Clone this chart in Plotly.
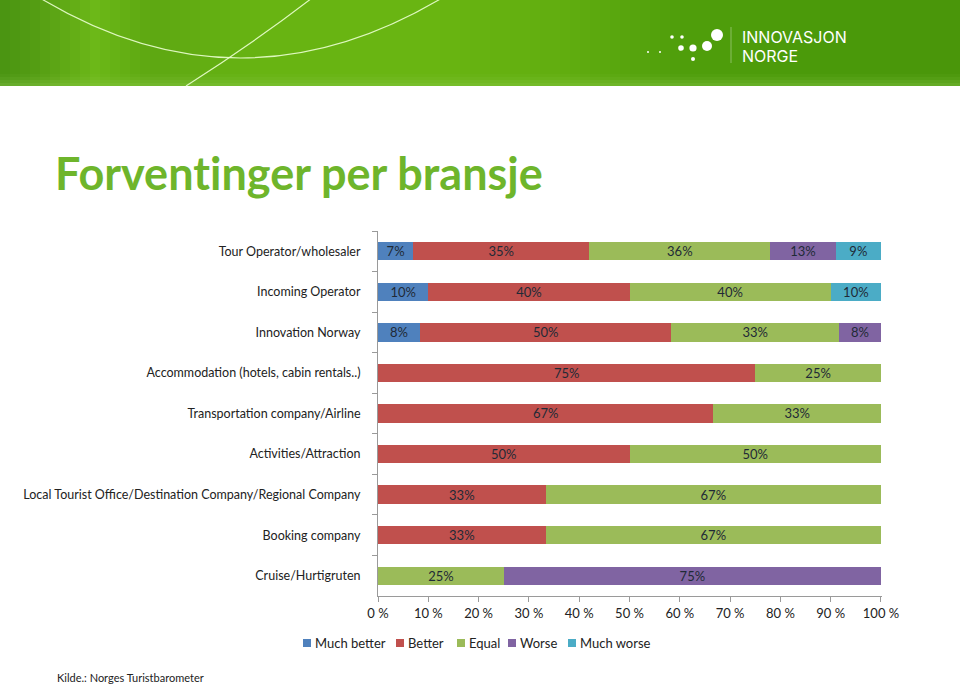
import plotly.graph_objects as go

# ---------------- data ----------------
categories = [
    "Tour Operator/wholesaler",
    "Incoming Operator",
    "Innovation Norway",
    "Accommodation (hotels, cabin rentals..)",
    "Transportation company/Airline",
    "Activities/Attraction",
    "Local Tourist Office/Destination Company/Regional Company",
    "Booking company",
    "Cruise/Hurtigruten",
]
much_better = [7, 10, 8.33, 0, 0, 0, 0, 0, 0]
better = [35, 40, 50, 75, 66.67, 50, 33.33, 33.33, 0]
equal = [36, 40, 33.33, 25, 33.33, 50, 66.67, 66.67, 25]
worse = [13, 0, 8.33, 0, 0, 0, 0, 0, 75]
much_worse = [9, 10, 0, 0, 0, 0, 0, 0, 0]

series_names = ["Much better", "Better", "Equal", "Worse", "Much worse"]
series_values = [much_better, better, equal, worse, much_worse]
series_colors = ["#4F81BD", "#C0504D", "#9BBB59", "#8064A2", "#4BACC6"]

x_tickvals = [0, 10, 20, 30, 40, 50, 60, 70, 80, 90, 100]
x_ticktext = ["0 %", "10 %", "20 %", "30 %", "40 %", "50 %", "60 %", "70 %", "80 %", "90 %", "100 %"]

W, H = 960, 684
FONT = "Lato"


def px(x):
    return x / W


def py(y):
    return 1 - y / H


fig = go.Figure()
for name, vals, col in zip(series_names, series_values, series_colors):
    fig.add_trace(go.Bar(
        name=name,
        y=categories,
        x=vals,
        orientation="h",
        marker=dict(color=col, line=dict(width=0)),
        text=[f"{v:.0f}%" if v > 0 else "" for v in vals],
        textposition="inside",
        insidetextanchor="middle",
        constraintext="none",
        textfont=dict(family=FONT, size=13, color="#1f2a36"),
        width=0.45,
        hoverinfo="skip",
        showlegend=False,
    ))

shapes = []


def hex2rgb(h):
    h = h.lstrip("#")
    return tuple(int(h[i:i + 2], 16) for i in (0, 2, 4))


# header banner: smooth horizontal gradient built from a few key colours
grad_keys = [(0, "#4a9412"), (40, "#569f14"), (95, "#6cb818"), (150, "#5ea812"),
             (260, "#68b412"), (420, "#6ab612"), (560, "#62ae10"), (680, "#509f0c"),
             (820, "#4b9a0a"), (960, "#4a960a")]
steps = 96
for i in range(steps):
    xa = i * W / steps
    xm = xa + W / steps / 2
    for (k0, c0), (k1, c1) in zip(grad_keys[:-1], grad_keys[1:]):
        if k0 <= xm <= k1:
            t = (xm - k0) / (k1 - k0)
            r0, g0, b0 = hex2rgb(c0)
            r1, g1, b1 = hex2rgb(c1)
            col = "rgb(%d,%d,%d)" % (r0 + (r1 - r0) * t, g0 + (g1 - g0) * t, b0 + (b1 - b0) * t)
            break
    shapes.append(dict(type="rect", xref="paper", yref="paper",
                       x0=px(xa), x1=px(xa + W / steps + 1), y0=py(86), y1=1,
                       fillcolor=col, line=dict(width=0), layer="below"))
for j, a in enumerate([0.10, 0.18, 0.26, 0.32]):
    shapes.append(dict(type="rect", xref="paper", yref="paper", x0=0, x1=1,
                       y0=py(86), y1=py(74 + j * 3), fillcolor="rgba(150,210,90,%.2f)" % (a / 2),
                       line=dict(width=0), layer="below"))
# arcs
shapes.append(dict(type="path", xref="paper", yref="paper",
                   path=f"M {px(40)},{py(-2)} Q {px(240)},{py(118)} {px(442)},{py(-2)}",
                   line=dict(color="rgba(235,255,210,0.9)", width=1.2)))
shapes.append(dict(type="path", xref="paper", yref="paper",
                   path=f"M {px(186)},{py(86)} Q {px(255)},{py(42)} {px(312)},{py(-2)}",
                   line=dict(color="rgba(235,255,210,0.9)", width=1.2)))
# logo dots
dots = [(648, 52, 1), (660, 52, 1), (672, 37, 1.8), (682, 37, 1.8), (681, 48, 2.8),
        (693, 48, 3.6), (707, 46, 5), (717, 35, 6), (693, 59, 2)]
for cx, cy, r in dots:
    shapes.append(dict(type="circle", xref="paper", yref="paper",
                       x0=px(cx - r), x1=px(cx + r), y0=py(cy + r), y1=py(cy - r),
                       fillcolor="white", line=dict(width=0)))
shapes.append(dict(type="line", xref="paper", yref="paper",
                   x0=px(731), x1=px(731), y0=py(27), y1=py(63),
                   line=dict(color="rgba(255,255,255,0.35)", width=1)))

annotations = [
    dict(text="INNOVASJON", x=px(740), y=py(37), xref="paper", yref="paper",
         xanchor="left", yanchor="middle", showarrow=False,
         font=dict(family="Inter", size=16, color="white")),
    dict(text="NORGE", x=px(740), y=py(56), xref="paper", yref="paper",
         xanchor="left", yanchor="middle", showarrow=False,
         font=dict(family="Inter", size=16, color="white")),
    dict(text="<b>Forvent\u200cinger per bransje</b>", x=px(53), y=py(173), xref="paper", yref="paper",
         xanchor="left", yanchor="middle", showarrow=False,
         font=dict(family=FONT, size=45, color="#6EB52B")),
    dict(text="Kilde.: Norges Turistbarometer", x=px(55), y=py(677), xref="paper", yref="paper",
         xanchor="left", yanchor="middle", showarrow=False,
         font=dict(family=FONT, size=11, color="#222222")),
]

# compact legend (swatch + label) laid out like the original
legend_x = [303, 396, 457, 508, 568]
for lx, name, col in zip(legend_x, series_names, series_colors):
    shapes.append(dict(type="rect", xref="paper", yref="paper",
                       x0=px(lx), x1=px(lx + 8), y0=py(647), y1=py(639),
                       fillcolor=col, line=dict(width=0)))
    annotations.append(dict(text=name, x=px(lx + 10), y=py(643), xref="paper", yref="paper",
                            xanchor="left", yanchor="middle", showarrow=False,
                            font=dict(family=FONT, size=13, color="#222222")))

fig.update_layout(
    width=W, height=H,
    margin=dict(l=0, r=0, t=0, b=0, pad=0, autoexpand=False),
    paper_bgcolor="white", plot_bgcolor="white",
    barmode="stack",
    bargap=0.5,
    shapes=shapes,
    annotations=annotations,
    showlegend=False,
    xaxis=dict(domain=[px(378), px(882)], range=[0, 100.2], tickvals=x_tickvals,
               ticktext=x_ticktext, showgrid=False, zeroline=False, automargin=False,
               showline=True, linecolor="#9a9a9a", linewidth=1,
               ticks="outside", ticklen=5, tickcolor="#9a9a9a",
               tickfont=dict(family=FONT, size=13, color="#222222"), fixedrange=True),
    yaxis=dict(domain=[py(596), py(231)], autorange="reversed", showgrid=False,
               showline=True, linecolor="#9a9a9a", linewidth=1, automargin=False,
               ticks="outside", ticklen=5, tickcolor="#9a9a9a", tickson="boundaries",
               ticklabelstandoff=14,
               tickfont=dict(family=FONT, size=12.5, color="#222222"), fixedrange=True),
)

fig.write_html("out.html", config={"displayModeBar": False},
               post_script="document.body.style.margin='0';document.body.style.overflow='hidden';")
